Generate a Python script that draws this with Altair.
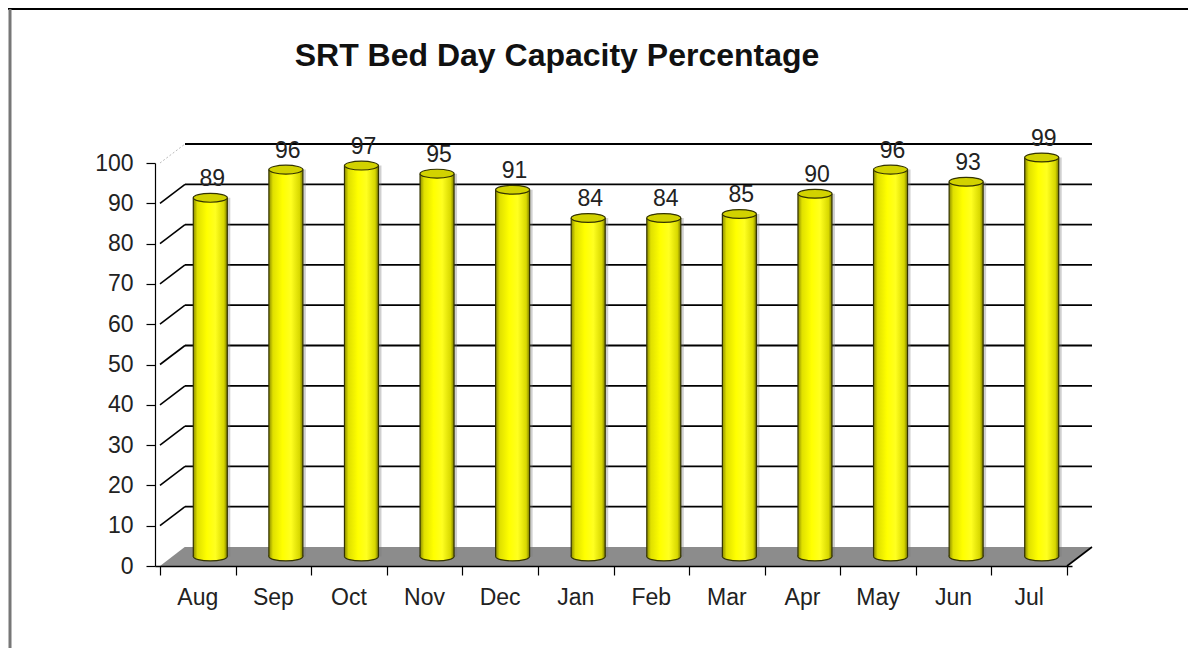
import altair as alt
import pandas as pd

# ---- data ----
months = ["Aug", "Sep", "Oct", "Nov", "Dec", "Jan", "Feb", "Mar", "Apr", "May", "Jun", "Jul"]
values = [89, 96, 97, 95, 91, 84, 84, 85, 90, 96, 93, 99]
y_ticks = [0, 10, 20, 30, 40, 50, 60, 70, 80, 90, 100]
title_text = "SRT Bed Day Capacity Percentage"

# ---- layout / style ----
W, H = 917, 403          # plot area (front plane)
DX, DY = 25, -19         # 3-D depth offset of back wall (px)
HX, HY = DX / 2, DY / 2  # bars sit at mid depth
BAR_W = 34
N = len(months)
FONT = "Liberation Sans"
PAD = {"left": 147, "top": 155, "right": 116, "bottom": 82}

df = pd.DataFrame({"month": months, "value": values,
                   "idx": [i + 0.5 for i in range(N)]})
grid_df = pd.DataFrame({"v": y_ticks[1:-1]})
top_df = pd.DataFrame({"v": [y_ticks[-1]]})
back_df = pd.DataFrame({"v": y_ticks[1:]})

# floor parallelogram in data units (derived from the depth offset)
dxu = DX * N / W
dyu = -DY * 100 / H
floor_df = pd.DataFrame({
    "x": [0, dxu, N, N + dxu],
    "y": [0, 0, 0, dyu],
    "y2": [0, dyu, dyu, dyu],
})
one = pd.DataFrame({"t": [title_text]})

x_scale = alt.Scale(domain=[0, N], nice=False, zero=False)
y_scale = alt.Scale(domain=[0, 100], nice=False)

x_axis = alt.Axis(values=list(range(N + 1)), labels=False, ticks=True, tickSize=9,
                  domain=True, domainColor="#000", tickColor="#000", domainWidth=1.5,
                  tickWidth=1.2, grid=False, title=None, zindex=1)
y_axis = alt.Axis(values=y_ticks, tickSize=9, labelFontSize=23, labelPadding=13,
                  labelColor="#222", labelFont=FONT, domainColor="#000", tickColor="#000",
                  domainWidth=1.2, tickWidth=1.2, grid=False, title=None, zindex=1)


def X(field, **kw):
    return alt.X(field, type="quantitative", scale=x_scale, axis=x_axis, title=None, **kw)


def Y(field, **kw):
    return alt.Y(field, type="quantitative", scale=y_scale, axis=y_axis, title=None, **kw)


body_grad = alt.Gradient(
    gradient="linear", x1=0, x2=1, y1=0, y2=0,
    stops=[
        alt.GradientStop(offset=0.0, color="#8c8c00"),
        alt.GradientStop(offset=0.12, color="#e0e000"),
        alt.GradientStop(offset=0.4, color="#ffff00"),
        alt.GradientStop(offset=0.65, color="#ffff20"),
        alt.GradientStop(offset=0.9, color="#d8d800"),
        alt.GradientStop(offset=1.0, color="#7a7a00"),
    ],
)
ellipse = "M-1,0A1,0.26,0,1,1,1,0A1,0.26,0,1,1,-1,0Z"

floor = alt.Chart(floor_df).mark_area(color="#8c8c8c", interpolate="linear").encode(
    x=X("x"), y=Y("y"), y2="y2"
)

back_lines = alt.Chart(back_df).mark_rule(
    color="#000", strokeWidth=1.8, xOffset=DX, x2Offset=DX, yOffset=DY
).encode(x=alt.X(datum=0, scale=x_scale, axis=x_axis, title=None), x2=alt.datum(N), y=Y("v"))

diag = alt.Chart(grid_df).mark_rule(
    color="#000", strokeWidth=1.6, x2Offset=DX, y2Offset=DY
).encode(x=alt.X(datum=0, scale=x_scale, axis=x_axis, title=None), x2=alt.datum(0),
         y=Y("v"), y2="v")

diag_top = alt.Chart(top_df).mark_rule(
    color="#bbbbbb", strokeWidth=1, strokeDash=[2, 2], x2Offset=DX, y2Offset=DY
).encode(x=alt.X(datum=0, scale=x_scale, axis=x_axis, title=None), x2=alt.datum(0),
         y=Y("v"), y2="v")

floor_edge = alt.Chart(one).mark_rule(
    color="#000", strokeWidth=1.6, x2Offset=DX, y2Offset=DY
).encode(x=alt.X(datum=N, scale=x_scale, axis=x_axis, title=None), x2=alt.datum(N),
         y=alt.Y(datum=0, scale=y_scale, axis=y_axis, title=None), y2=alt.datum(0))

base = alt.Chart(df)

shadow = base.mark_bar(size=BAR_W, color="#777", opacity=0.35,
                       xOffset=HX + 3, yOffset=HY, y2Offset=HY).encode(
    x=X("idx"), y=Y("value"), y2=alt.datum(0))

bottom = base.mark_point(shape=ellipse, size=BAR_W * BAR_W, filled=True, fill=body_grad,
                         stroke="#333300", strokeWidth=1.2, opacity=1,
                         xOffset=HX, yOffset=HY).encode(
    x=X("idx"), y=alt.Y(datum=0, scale=y_scale, axis=y_axis, title=None))

body = base.mark_bar(size=BAR_W, color=body_grad, xOffset=HX, yOffset=HY,
                     y2Offset=HY).encode(x=X("idx"), y=Y("value"), y2=alt.datum(0))

edge_l = base.mark_rule(color="#333300", strokeWidth=1.2, xOffset=HX - BAR_W / 2,
                        yOffset=HY, y2Offset=HY).encode(
    x=X("idx"), y=Y("value"), y2=alt.datum(0))
edge_r = base.mark_rule(color="#333300", strokeWidth=1.2, xOffset=HX + BAR_W / 2,
                        yOffset=HY, y2Offset=HY).encode(
    x=X("idx"), y=Y("value"), y2=alt.datum(0))

top = base.mark_point(shape=ellipse, size=BAR_W * BAR_W, filled=True, fill="#d2d200",
                      stroke="#333300", strokeWidth=1.2, opacity=1,
                      xOffset=HX, yOffset=HY).encode(x=X("idx"), y=Y("value"))

labels = base.mark_text(fontSize=23, font=FONT, color="#222", baseline="alphabetic",
                        dx=HX + 2, dy=HY - 12).encode(
    x=X("idx"), y=Y("value"), text="value:Q")

month_labels = base.mark_text(fontSize=23, font=FONT, color="#222", baseline="top",
                              dy=21).encode(
    x=X("idx"), y=alt.Y(datum=0, scale=y_scale, axis=y_axis, title=None), text="month:N")

# chart title (text mark above the plot)
title = alt.Chart(one).mark_text(fontSize=32, font=FONT, fontWeight="bold", color="#111",
                                 align="center", baseline="alphabetic").encode(
    x=alt.value(402), y=alt.value(-97), text="t:N")

# outer frame of the embedded figure
frame_top = alt.Chart(one).mark_rule(color="#000", strokeWidth=2).encode(
    x=alt.value(-150), x2=alt.value(W + PAD["right"]), y=alt.value(-154))
frame_left = alt.Chart(one).mark_rule(color="#777", strokeWidth=3).encode(
    x=alt.value(-145), y=alt.value(-154), y2=alt.value(H + PAD["bottom"]))

chart = alt.layer(
    floor, back_lines, diag, diag_top, floor_edge,
    shadow, bottom, body, edge_l, edge_r, top, labels, month_labels,
    title, frame_top, frame_left,
).properties(
    width=W, height=H,
    autosize=alt.AutoSizeParams(type="none"),
    padding=PAD,
).configure_view(stroke=None)

chart.save("out.html", embed_options={"renderer": "svg", "actions": False})
